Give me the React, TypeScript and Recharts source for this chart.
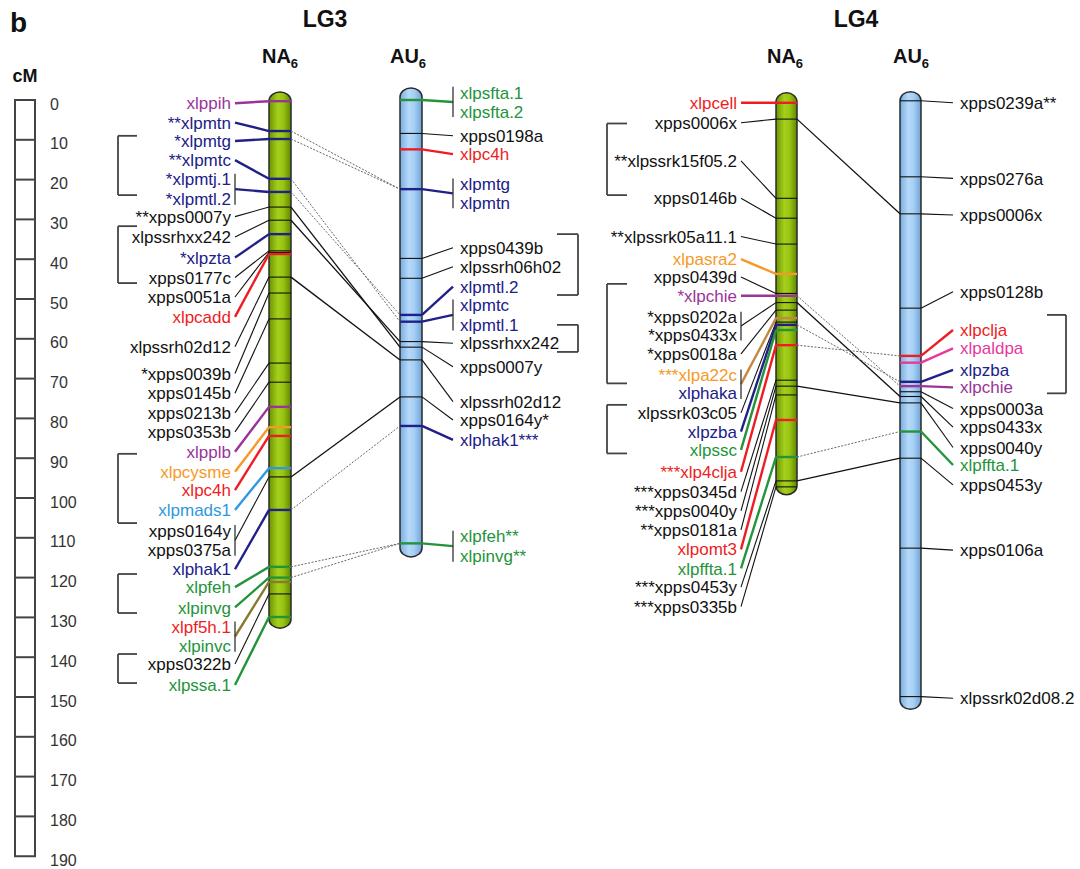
import React from "react";
import { ScatterChart, Scatter, XAxis, YAxis, ReferenceArea, ReferenceLine } from "recharts";

const W = 1080;
const H = 869;
// the figure's cM scale: 0 cM sits 100px down, 3.98px per cM
const CM_TOP = -100 / 3.98;
const CM_BOTTOM = (H - 100) / 3.98;
const FONT = '"Liberation Sans", Arial, Helvetica, sans-serif';

const RULER_TICKS = [0, 10, 20, 30, 40, 50, 60, 70, 80, 90, 100, 110, 120, 130, 140, 150, 160, 170, 180, 190];

// [names on the label, map position (cM), label rows (cM)]
type Locus = [string[], number, number[]];

const LG3_NA: Locus[] = [
  [["xlppih"], 0.3, [0.8]],
  [["**xlpmtn"], 7.8, [5.7]],
  [["*xlpmtg"], 9.8, [10.3]],
  [["**xlpmtc"], 19.8, [15.1]],
  [["*xlpmtj.1", "*xlpmtl.2"], 23.1, [19.9, 24.9]],
  [["**xpps0007y"], 26.9, [29.3]],
  [["xlpssrhxx242"], 30.2, [34.4]],
  [["*xlpzta"], 33.7, [39.6]],
  [["xpps0177c"], 37.9, [44.6]],
  [["xpps0051a"], 38.3, [49.5]],
  [["xlpcadd"], 38.7, [54.5]],
  [["xlpssrh02d12"], 44.5, [62.0]],
  [["*xpps0039b"], 48.5, [68.7]],
  [["xpps0145b"], 55.0, [73.7]],
  [["xpps0213b"], 66.1, [78.6]],
  [["xpps0353b"], 70.9, [83.4]],
  [["xlpplb"], 77.1, [88.4]],
  [["xlpcysme"], 82.2, [93.4]],
  [["xlpc4h"], 84.4, [98.0]],
  [["xlpmads1"], 92.5, [103.0]],
  [["xpps0164y", "xpps0375a"], 94.7, [108.2, 113.1]],
  [["xlphak1"], 103.0, [117.9]],
  [["xlpfeh"], 117.3, [122.4]],
  [["xlpinvg"], 120.0, [127.5]],
  [["xlpf5h.1", "xlpinvc"], 121.1, [132.4, 137.2]],
  [["xpps0322b"], 124.1, [141.7]],
  [["xlpssa.1"], 129.9, [147.0]],
];

const LG3_AU: Locus[] = [
  [["xlpsfta.1", "xlpsfta.2"], 0.0, [-1.9, 2.9]],
  [["xpps0198a"], 8.4, [9.0]],
  [["xlpc4h"], 12.4, [13.6]],
  [["xlpmtg", "xlpmtn"], 22.4, [21.1, 25.8]],
  [["xpps0439b"], 39.8, [37.1]],
  [["xlpssrh06h02"], 44.8, [41.9]],
  [["xlpmtl.2"], 54.0, [46.9]],
  [["xlpmtc", "xlpmtl.1"], 55.7, [51.5, 56.5]],
  [["xlpssrhxx242"], 60.7, [61.1]],
  [["xpps0007y"], 62.1, [67.0]],
  [["xlpssrh02d12"], 65.3, [75.8]],
  [["xpps0164y*"], 74.6, [80.4]],
  [["xlphak1***"], 81.9, [85.4]],
  [["xlpfeh**", "xlpinvg**"], 111.4, [109.6, 114.6]],
];

const LG4_NA: Locus[] = [
  [["xlpcell"], 0.7, [0.7]],
  [["xpps0006x"], 4.8, [5.7]],
  [["**xlpssrk15f05.2"], 24.7, [15.3]],
  [["xpps0146b"], 29.7, [24.7]],
  [["**xlpssrk05a11.1"], 36.2, [34.3]],
  [["xlpasra2"], 43.7, [40.0]],
  [["xpps0439d"], 48.6, [44.5]],
  [["*xlpchie"], 49.2, [49.2]],
  [["*xpps0202a", "*xpps0433x"], 50.9, [54.6, 59.0]],
  [["*xpps0018a"], 52.8, [63.8]],
  [["***xlpa22c", "xlphaka"], 54.8, [69.1, 73.7]],
  [["xlpssrk03c05"], 55.8, [78.6]],
  [["xlpzba"], 56.5, [83.3]],
  [["xlpssc"], 57.8, [87.9]],
  [["***xlp4clja"], 61.6, [93.4]],
  [["***xpps0345d"], 70.4, [98.4]],
  [["***xpps0040y"], 71.9, [103.2]],
  [["**xpps0181a"], 74.1, [108.0]],
  [["xlpomt3"], 80.4, [112.9]],
  [["xlpffta.1"], 89.7, [117.7]],
  [["***xpps0453y"], 95.7, [122.4]],
  [["***xpps0335b"], 97.2, [127.3]],
];

const LG4_AU: Locus[] = [
  [["xpps0239a**"], 0.2, [0.7]],
  [["xpps0276a"], 19.3, [19.7]],
  [["xpps0006x"], 28.6, [28.9]],
  [["xpps0128b"], 52.3, [48.2]],
  [["xlpclja"], 64.3, [57.8]],
  [["xlpaldpa"], 66.0, [62.4]],
  [["xlpzba"], 70.8, [67.8]],
  [["xlpchie"], 71.9, [72.2]],
  [["xpps0003a"], 73.3, [77.5]],
  [["xpps0433x"], 74.5, [82.2]],
  [["xpps0040y"], 76.1, [87.3]],
  [["xlpffta.1"], 83.3, [91.7]],
  [["xpps0453y"], 90.0, [96.7]],
  [["xpps0106a"], 112.6, [113.1]],
  [["xlpssrk02d08.2"], 149.9, [150.3]],
];

// chromosome extent (cM)
const LG3_NA_SPAN = [-2.0, 132.7];
const LG3_AU_SPAN = [-3.0, 114.8];
const LG4_NA_SPAN = [-1.8, 99.2];
const LG4_AU_SPAN = [-2.1, 153.1];

// shared loci, NA6 name -> AU6 name
const LG3_LINKS = [
  ["xlpmtn", "xlpmtn"], ["xlpmtg", "xlpmtg"], ["xlpmtc", "xlpmtc"], ["xlpmtl.2", "xlpmtl.2"],
  ["xpps0007y", "xpps0007y"], ["xlpssrhxx242", "xlpssrhxx242"], ["xlpssrh02d12", "xlpssrh02d12"],
  ["xpps0164y", "xpps0164y"], ["xlphak1", "xlphak1"], ["xlpfeh", "xlpfeh"], ["xlpinvg", "xlpinvg"],
];
const LG4_LINKS = [
  ["xpps0006x", "xpps0006x"], ["xlpchie", "xlpchie"], ["xpps0433x", "xpps0433x"], ["xlpzba", "xlpzba"],
  ["xlp4clja", "xlpclja"], ["xpps0040y", "xpps0040y"], ["xlpffta.1", "xlpffta.1"], ["xpps0453y", "xpps0453y"],
];

// bracketed label groups (cM ranges)
const LG3_NA_GROUPS = [[9.0, 23.9], [31.7, 46.0], [88.9, 106.3], [119.1, 128.9], [139.2, 146.5]];
const LG3_AU_GROUPS = [[33.7, 49.0], [56.5, 63.3]];
const LG4_NA_GROUPS = [[5.9, 23.9], [46.2, 71.2], [76.6, 88.8]];
const LG4_AU_GROUPS = [[54.0, 73.7]];

const INK = "#111";
const NAVY = "#202088";
const PURPLE = "#9a349a";
const RED = "#ee1d23";
const ORANGE = "#f59a28";
const SKY = "#2e98e0";
const GREEN = "#23943a";
const PINK = "#e8389a";

const HUE: Record<string, string> = {
  xlppih: PURPLE, xlpmtn: NAVY, xlpmtg: NAVY, xlpmtc: NAVY, "xlpmtj.1": NAVY, "xlpmtl.2": NAVY,
  "xlpmtl.1": NAVY, xlpzta: NAVY, xlpcadd: RED, xlpplb: PURPLE, xlpcysme: ORANGE, xlpc4h: RED,
  xlpmads1: SKY, xlphak1: NAVY, xlpfeh: GREEN, xlpinvg: GREEN, "xlpf5h.1": RED, xlpinvc: GREEN,
  "xlpssa.1": GREEN, "xlpsfta.1": GREEN, "xlpsfta.2": GREEN, xlpcell: RED, xlpasra2: ORANGE,
  xlpchie: PURPLE, xlpa22c: ORANGE, xlphaka: NAVY, xlpzba: NAVY, xlpssc: GREEN, xlp4clja: RED,
  xlpomt3: RED, "xlpffta.1": GREEN, xlpclja: RED, xlpaldpa: PINK,
};
const LINE_HUE: Record<string, string> = { "xlpf5h.1": "#8a7a2e", xlpa22c: "#c4873f" };

const bare = (n: string) => n.replace(/\*/g, "");
const hueOf = (n: string) => HUE[bare(n)] ?? INK;
const isGene = (n: string) => n.startsWith("xlp") && !n.startsWith("xlpssr");

interface Column {
  loci: Locus[];
  span: number[];
  left: number;
  right: number;
  side: "L" | "R";
  lineX: number;
  groups: number[][];
  bracket: [number, number];
  fill: string;
}

const COLS: Record<string, Column> = {
  lg3na: { loci: LG3_NA, span: LG3_NA_SPAN, left: 269, right: 291, side: "L", lineX: 235, groups: LG3_NA_GROUPS, bracket: [118, 137], fill: "url(#naFill)" },
  lg3au: { loci: LG3_AU, span: LG3_AU_SPAN, left: 400, right: 422, side: "R", lineX: 453, groups: LG3_AU_GROUPS, bracket: [578, 557], fill: "url(#auFill)" },
  lg4na: { loci: LG4_NA, span: LG4_NA_SPAN, left: 776, right: 797, side: "L", lineX: 741, groups: LG4_NA_GROUPS, bracket: [607, 627], fill: "url(#naFill)" },
  lg4au: { loci: LG4_AU, span: LG4_AU_SPAN, left: 900, right: 921, side: "R", lineX: 953, groups: LG4_AU_GROUPS, bracket: [1066, 1047], fill: "url(#auFill)" },
};

function Chromosome(props: any) {
  const { x, y, width, height, fill } = props;
  const top = Math.min(y, y + height);
  const h = Math.abs(height);
  return <rect x={x} y={top} width={width} height={h} rx={width / 2} ry={9} fill={fill} stroke="#2a2a2a" strokeWidth={1.5} />;
}

function RulerTick(props: any) {
  const { y, payload } = props;
  const v = payload.value;
  return (
    <g>
      {v > 0 && v < 190 && <line x1={15} x2={35} y1={y} y2={y} stroke="#444" strokeWidth={2} />}
      <text x={50} y={y} dy="0.6em" fontSize={16} fill="#333" fontFamily={FONT}>{v}</text>
    </g>
  );
}

function LabelText(props: any) {
  const { cx, cy, payload } = props;
  return (
    <text x={cx} y={cy} dy="0.36em" textAnchor={payload.anchor} fill={payload.color} fontSize={17} fontFamily={FONT}>
      {payload.text}
    </text>
  );
}

function findCm(col: Column, name: string) {
  const hit = col.loci.find(([names]) => names.some((n) => bare(n) === name));
  return hit ? hit[1] : 0;
}

function columnParts(id: string, c: Column, labels: any[]) {
  const out: React.ReactNode[] = [];
  out.push(
    <ReferenceArea key={id + "-body"} x1={c.left} x2={c.right} y1={c.span[0]} y2={c.span[1]}
      ifOverflow="visible" shape={(p: any) => <Chromosome {...p} fill={c.fill} />} />
  );
  const edge = c.side === "L" ? c.left : c.right;
  c.loci.forEach(([names, cm, at], i) => {
    const first = bare(names[0]);
    const hue = LINE_HUE[first] ?? hueOf(names[0]);
    const w = hue === INK ? 1.1 : 2.4;
    const mid = at.reduce((s, v) => s + v, 0) / at.length;
    out.push(
      <ReferenceLine key={`${id}-m${i}`} segment={[{ x: c.left, y: cm }, { x: c.right, y: cm }]} stroke={hue} strokeWidth={w} />
    );
    out.push(
      <ReferenceLine key={`${id}-l${i}`} segment={[{ x: c.lineX, y: mid }, { x: edge, y: cm }]} stroke={hue} strokeWidth={w} />
    );
    if (at.length > 1) {
      out.push(
        <ReferenceLine key={`${id}-b${i}`} segment={[{ x: c.lineX, y: at[0] - 1.4 }, { x: c.lineX, y: at[at.length - 1] + 1.4 }]}
          stroke="#333" strokeWidth={1.3} />
      );
    }
    names.forEach((n, k) => {
      labels.push({
        x: c.side === "L" ? c.lineX - 4 : c.lineX + 7,
        y: at[k],
        text: n,
        color: hueOf(n),
        anchor: c.side === "L" ? "end" : "start",
      });
    });
  });
  c.groups.forEach(([a, b], i) => {
    const [xv, xa] = c.bracket;
    out.push(<ReferenceLine key={`${id}-g${i}v`} segment={[{ x: xv, y: a }, { x: xv, y: b }]} stroke="#444" strokeWidth={1.8} />);
    out.push(<ReferenceLine key={`${id}-g${i}t`} segment={[{ x: xv, y: a }, { x: xa, y: a }]} stroke="#444" strokeWidth={1.8} />);
    out.push(<ReferenceLine key={`${id}-g${i}b`} segment={[{ x: xv, y: b }, { x: xa, y: b }]} stroke="#444" strokeWidth={1.8} />);
  });
  return out;
}

function linkParts(id: string, na: Column, au: Column, links: string[][]) {
  return links.map(([a, b], i) => {
    const gene = isGene(a);
    return (
      <ReferenceLine key={`${id}-${i}`} segment={[{ x: na.right, y: findCm(na, a) }, { x: au.left, y: findCm(au, b) }]}
        stroke={gene ? "#666" : INK} strokeWidth={gene ? 1 : 1.3} strokeDasharray={gene ? "2 1.5" : undefined} />
    );
  });
}

function Title({ x, y, base }: { x: number; y: number; base: string }) {
  return (
    <text x={x} y={y} textAnchor="middle" fontSize={20} fontWeight="bold" fontFamily={FONT} fill="#111">
      {base}
      <tspan fontSize={13} dy={5}>6</tspan>
    </text>
  );
}

export default function App() {
  const labels: any[] = [];
  const parts: React.ReactNode[] = [];
  Object.entries(COLS).forEach(([id, c]) => parts.push(...columnParts(id, c, labels)));
  parts.push(...linkParts("lk3", COLS.lg3na, COLS.lg3au, LG3_LINKS));
  parts.push(...linkParts("lk4", COLS.lg4na, COLS.lg4au, LG4_LINKS));

  return (
    <div style={{ position: "absolute", left: 0, top: 0, width: W, height: H, background: "#fff" }}>
      <ScatterChart width={W} height={H} margin={{ top: 0, right: 0, bottom: 0, left: 0 }}>
        <defs>
          <linearGradient id="naFill" x1="0" y1="0" x2="1" y2="0">
            <stop offset="0" stopColor="#6a9400" />
            <stop offset="0.4" stopColor="#a6cf1c" />
            <stop offset="0.65" stopColor="#98c412" />
            <stop offset="1" stopColor="#5f8800" />
          </linearGradient>
          <linearGradient id="auFill" x1="0" y1="0" x2="1" y2="0">
            <stop offset="0" stopColor="#78ade2" />
            <stop offset="0.4" stopColor="#b6d9f8" />
            <stop offset="0.65" stopColor="#a5cff4" />
            <stop offset="1" stopColor="#6ea3d9" />
          </linearGradient>
        </defs>
        <XAxis type="number" dataKey="x" domain={[0, W]} allowDataOverflow hide />
        <YAxis type="number" dataKey="y" domain={[CM_TOP, CM_BOTTOM]} allowDataOverflow reversed mirror
          ticks={RULER_TICKS} interval={0} axisLine={false} tickLine={false} tick={(p: any) => <RulerTick {...p} />} />
        <ReferenceArea x1={15} x2={35} y1={0} y2={190} fill="none" fillOpacity={0} stroke="#444" strokeWidth={2} ifOverflow="visible" />
        {parts}
        <Scatter data={labels} shape={(p: any) => <LabelText {...p} />} isAnimationActive={false} />
        <text x={10} y={32} fontSize={28} fontWeight="bold" fontFamily={FONT} fill="#111">b</text>
        <text x={25} y={82} textAnchor="middle" fontSize={18} fontWeight="bold" fontFamily={FONT} fill="#111">cM</text>
        <text x={325} y={27} textAnchor="middle" fontSize={23} fontWeight="bold" fontFamily={FONT} fill="#111">LG3</text>
        <text x={856} y={27} textAnchor="middle" fontSize={23} fontWeight="bold" fontFamily={FONT} fill="#111">LG4</text>
        <Title x={280} y={63} base="NA" />
        <Title x={408} y={63} base="AU" />
        <Title x={785} y={63} base="NA" />
        <Title x={911} y={63} base="AU" />
      </ScatterChart>
    </div>
  );
}
